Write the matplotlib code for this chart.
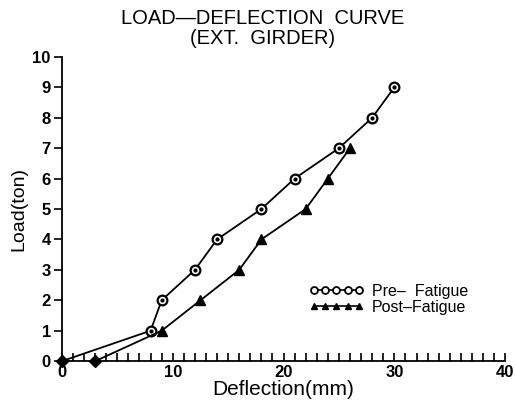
import matplotlib
matplotlib.use("Agg")
import matplotlib.pyplot as plt
from matplotlib.ticker import MultipleLocator
from matplotlib.lines import Line2D

pre_x = [0, 8, 9, 12, 14, 18, 21, 25, 28, 30]
pre_y = [0, 1, 2, 3, 4, 5, 6, 7, 8, 9]
post_x = [3, 9, 12.5, 16, 18, 22, 24, 26]
post_y = [0, 1, 2, 3, 4, 5, 6, 7]
x_ticks = [0, 10, 20, 30, 40]
y_ticks = list(range(0, 11))

plt.rcParams['font.family'] = ['Liberation Sans', 'DejaVu Sans']

fig = plt.figure(figsize=(5.16, 4.09), dpi=100)
ax = fig.add_axes([0.120, 0.117, 0.859, 0.744])

ax.plot(pre_x, pre_y, color='black', lw=1.3, marker='o', ms=7, mfc='white',
        mec='black', mew=1.6, clip_on=False, zorder=3, markevery=slice(1, None))
ax.plot(pre_x[1:], pre_y[1:], ls='none', marker='o', ms=2, color='black', clip_on=False, zorder=4)
ax.plot(post_x, post_y, color='black', lw=1.3, marker='^', ms=7, mfc='black',
        mec='black', clip_on=False, zorder=3, markevery=slice(1, None))
# points on the zero line appear as filled diamonds in the original
ax.plot([pre_x[0], post_x[0]], [pre_y[0], post_y[0]], ls='none', marker='D', ms=6,
        color='black', clip_on=False, zorder=5)

ax.set_xlim(0, 40)
ax.set_ylim(0, 10)
ax.set_xticks(x_ticks)
ax.set_yticks(y_ticks)
ax.xaxis.set_minor_locator(MultipleLocator(1))
ax.tick_params(axis='x', which='both', direction='in', length=6, width=1.2,
               labelsize=12, pad=3)
ax.tick_params(axis='y', which='major', direction='out', length=6, width=1.2,
               labelsize=12, pad=2)
for lab in ax.get_xticklabels() + ax.get_yticklabels():
    lab.set_fontweight('bold')
for s in ['top', 'right']:
    ax.spines[s].set_visible(False)
for s in ['left', 'bottom']:
    ax.spines[s].set_linewidth(1.3)

ax.set_xlabel('Deflection(mm)', fontsize=15, labelpad=0)
ax.set_ylabel('Load(ton)', fontsize=14, labelpad=4)

fig.text(0.508, 0.955, 'LOAD\u2014DEFLECTION  CURVE', ha='center', va='center', fontsize=14.5)
fig.text(0.508, 0.905, '(EXT.  GIRDER)', ha='center', va='center', fontsize=14.5)

h1 = Line2D([0], [0], color='black', lw=1.2, marker='o', ms=5, mfc='white', mec='black', mew=1.3)
h2 = Line2D([0], [0], color='black', lw=1.2, marker='^', ms=5, mfc='black', mec='black')
leg = ax.legend([h1, h2], ['Pre\u2013  Fatigue', 'Post\u2013Fatigue'], numpoints=5,
                handlelength=3.4, frameon=False, fontsize=11.5,
                loc='upper left', bbox_to_anchor=(0.54, 0.28),
                handletextpad=0.5, labelspacing=0.05, borderpad=0)

fig.savefig('out.png', dpi=100)
